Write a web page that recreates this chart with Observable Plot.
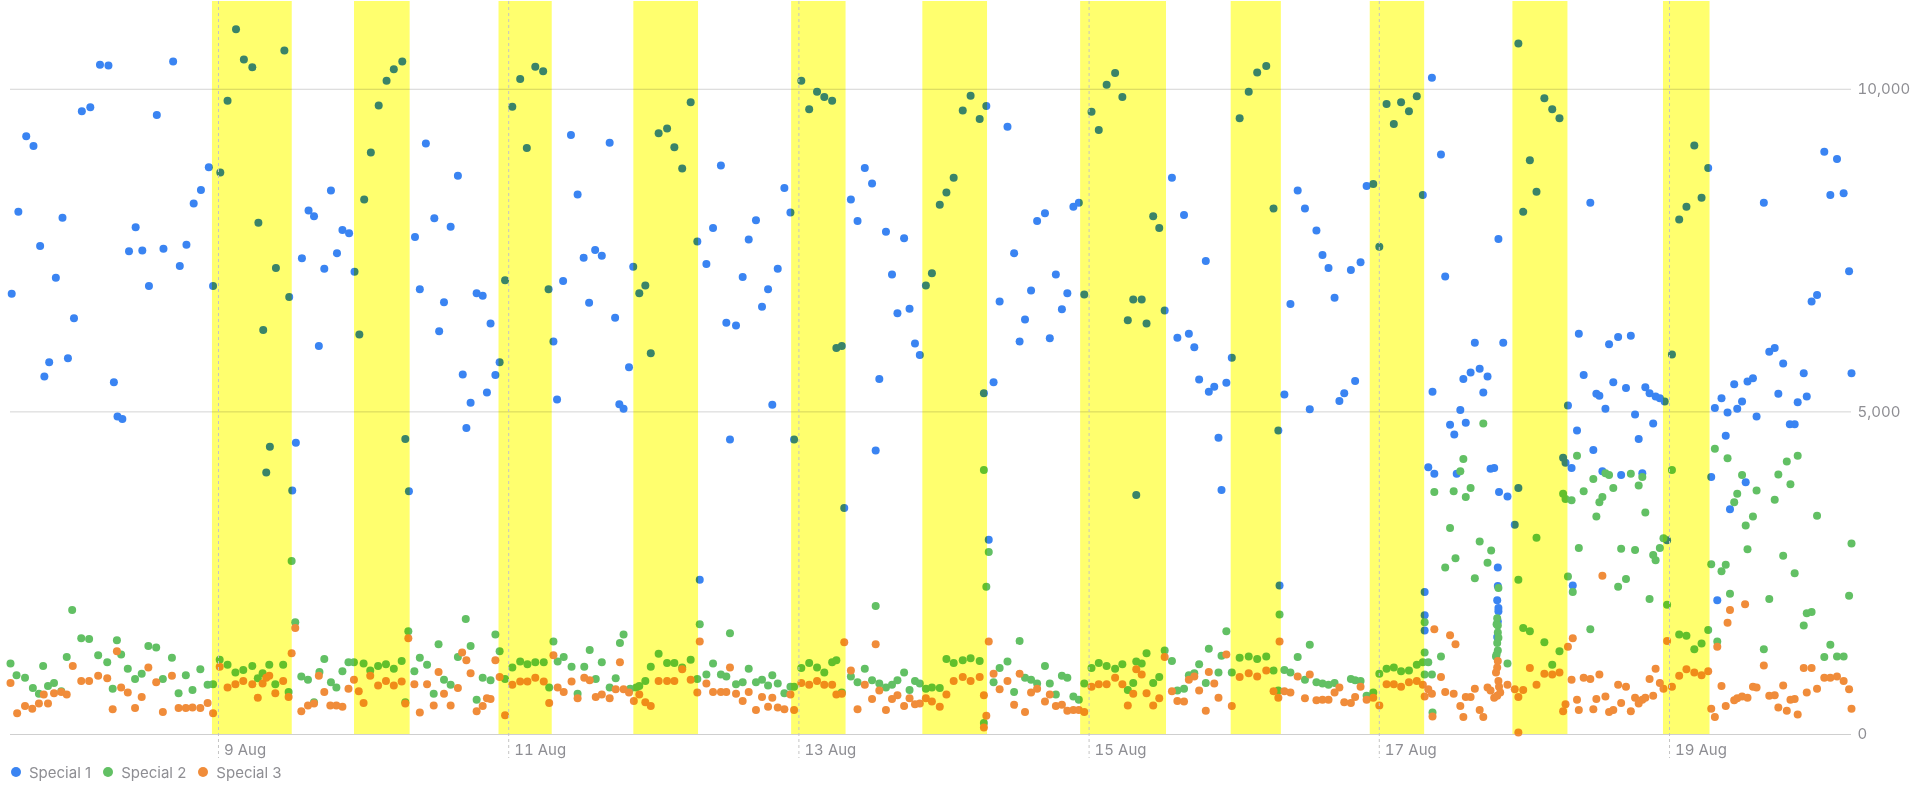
<!DOCTYPE html>
<html>
<head>
<meta charset="utf-8">
<script src="https://cdn.jsdelivr.net/npm/d3@7"></script>
<script src="https://cdn.jsdelivr.net/npm/@observablehq/plot@0.6"></script>
<style>
  html, body { margin: 0; padding: 0; background: #fff; }
  #legend { display: flex; align-items: center; height: 20px; line-height: 20px; padding-left: 11px; font: 15px Inter, "Helvetica Neue", Arial, sans-serif; color: #8e8e93; }
  #legend .item { display: flex; align-items: center; margin-right: 12px; }
  #legend .sw { width: 10px; height: 10px; border-radius: 50%; margin-right: 8px; display: inline-block; }
</style>
</head>
<body>
<div id="chart"></div>
<div id="legend"></div>
<script>
// Times are hours relative to 9 Aug 00:00; values are counts.
const seriesNames = ["Special 1", "Special 2", "Special 3"];
const seriesColors = ["#3a84f2", "#62c064", "#f08c3a"];

const special1 = [[-34.2,6830],[-33.1,8100],[-31.8,9270],[-30.6,9120],[-29.5,7570],[-28.8,5550],[-28.0,5770],[-26.9,7080],[-25.8,8010],[-24.9,5830],[-23.9,6450],[-22.6,9660],[-21.2,9720],[-19.6,10380],[-18.2,10370],[-17.3,5460],[-16.7,4930],[-15.9,4890],[-14.8,7490],[-13.7,7860],[-12.6,7500],[-11.5,6950],[-10.2,9600],[-9.1,7530],[-7.5,10430],[-6.4,7260],[-5.3,7590],[-4.1,8230],[-2.9,8440],[-1.6,8790],[-0.9,6950],
[0.3,8710],[1.5,9820],[2.9,10930],[4.2,10460],[5.6,10340],[6.6,7930],[7.4,6270],[7.9,4060],[8.5,4460],[9.5,7230],[10.9,10600],[11.7,6780],[12.2,3780],[12.8,4520],[13.8,7380],[14.9,8120],[15.8,8030],[16.6,6020],[17.5,7220],[18.6,8430],[19.6,7460],[20.5,7820],[21.6,7770],[22.5,7170],[23.3,6200],[24.1,8290],[25.2,9020],[26.5,9750],[27.8,10130],[29.0,10310],[30.4,10430],[30.9,4580],[31.5,3770],[32.5,7710],[33.3,6900],[34.3,9160],
[35.7,8000],[36.5,6250],[37.3,6700],[38.4,7870],[39.6,8660],[40.4,5580],[41.0,4750],[41.7,5140],[42.7,6840],[43.7,6800],[44.4,5300],[45.0,6370],[45.8,5570],[46.5,5770],[47.4,7040],[48.6,9730],[49.9,10160],[51.0,9090],[52.4,10350],[53.7,10280],[54.6,6900],[55.4,6090],[56.0,5190],[57.0,7030],[58.3,9290],[59.4,8370],[60.4,7390],[61.3,6690],[62.3,7510],[63.4,7420],[64.7,9170],[65.6,6460],[66.3,5120],[67.0,5050],[67.9,5690],[68.6,7250],
[69.6,6840],[70.6,6960],[71.5,5910],[72.8,9320],[74.2,9390],[75.4,9100],[76.7,8770],[78.1,9800],[79.2,7640],[79.6,2400],[80.7,7290],[81.8,7850],[83.1,8820],[84.0,6380],[84.6,4570],[85.6,6340],[86.7,7090],[87.7,7670],[88.9,7970],[89.9,6630],[90.9,6900],[91.6,5110],[92.5,7220],[93.6,8470],[94.6,8090],[95.2,4570],[96.4,10130],[97.7,9690],[99.0,9960],[100.2,9880],[101.5,9820],[102.2,5990],[103.1,6020],[103.5,3510],[104.6,8290],[105.7,7960],[106.9,8780],[108.1,8540],[108.7,4400],[109.3,5510],[110.4,7790],[111.4,7130],[112.3,6530],[113.4,7690],[114.3,6600],[115.2,6060],[116.0,5880],[117.0,6960],[118.0,7150],[119.3,8210],[120.4,8400],[121.6,8630],[123.1,9670],[124.4,9900],[125.9,9540],[126.6,5290],[127.0,9740],[127.4,3020],[128.2,5460],[129.2,6710],[130.5,9420],[131.6,7460],[132.5,6090],[133.4,6430],[134.4,6880],[135.4,7960],
[136.7,8080],[137.5,6140],[138.5,7130],[139.5,6590],[140.4,6840],[141.4,8180],[142.3,8240],[143.2,6820],[144.4,9650],[145.6,9370],[146.9,10070],[148.3,10250],[149.5,9880],[150.4,6420],[151.3,6740],[151.8,3710],[152.7,6740],[153.5,6370],[154.6,8030],[155.6,7850],[156.5,6570],[157.7,8630],[158.6,6150],[159.7,8050],[160.5,6210],[161.4,6000],[162.2,5500],[163.3,7340],[163.8,5310],[164.7,5390],[165.4,4600],[165.9,3790],[166.7,5450],[167.6,5840],[168.9,9550],[170.4,9960],[171.8,10260],[173.3,10360],[174.5,8150],[175.3,4710],[175.5,2310],[176.3,5270],[177.3,6670],[178.5,8430],[179.7,8150],[180.5,5040],[181.6,7810],[182.6,7430],[183.6,7230],[184.6,6770],[185.4,5170],[186.2,5290],[187.3,7200],[188.0,5480],[188.9,7320],[189.9,8500],[191.0,8530],[192.0,7560],[193.2,9770],[194.4,9460],[195.6,9800],[196.9,9660],[198.2,9890],[199.2,8360],[199.5,2210],[199.5,1850],[199.5,1610],[200.1,4140],[200.7,10180],[200.8,5310],[201.1,4040],[202.2,8990],[202.9,7100],
[203.7,4800],[204.4,4650],[204.8,4040],[205.4,5030],[205.9,5510],[206.3,4830],[207.1,5610],[207.8,6070],[208.6,5670],[209.2,5300],[209.9,5550],[210.4,4120],[211.0,4130],[211.5,2080],[211.5,1510],[211.7,7680],[211.6,2590],[211.6,2300],[211.7,1960],[211.7,1910],[211.6,1750],[211.8,3760],[212.5,6070],[213.2,3690],[214.4,3250],[215.0,10710],[215.0,3820],[215.8,8100],[216.9,8900],[218.0,8410],[219.3,9860],[220.6,9690],[221.8,9550],[222.4,4290],[222.8,4210],[223.2,5100],[223.8,4130],[224.0,2310],[224.7,4710],[225.0,6210],[225.8,5570],[226.9,8240],[227.4,4410],[227.9,5280],[228.4,5250],[228.9,4080],[229.4,5050],[230.0,6050],[230.7,5460],[231.5,6160],[232.0,4020],[232.8,5370],[233.6,6180],[234.3,4960],[234.9,4580],[235.5,4050],[236.0,5380],[236.7,5290],[237.3,4820],[237.7,5240],[238.4,5210],[239.2,5160],[239.6,3010],[240.4,5890],[241.6,7980],[242.8,8180],[244.1,9130],[245.3,8320],[246.4,8780],[246.9,3990],[247.5,5060],[247.9,2080],[248.6,5210],[249.3,4630],[249.6,4990],[250.0,3490],[250.7,5430],[251.2,5050],[252.0,5160],[252.6,3910],[252.9,5470],[253.8,5520],[254.4,4930],[255.6,8240],[256.5,5930],[257.4,5990],[258.0,5280],[258.8,5750],[259.9,4810],[260.7,4810],[261.2,5150],[262.2,5600],[262.7,5240],[263.5,6710],[264.4,6810],[265.6,9030],[266.6,8360],[267.7,8920],[268.8,8390],[269.7,7180],[270.1,5600]];

const special2 = [[-34.4,1100],[-33.4,920],[-32.0,880],[-30.7,720],[-29.7,630],[-29.0,1060],[-28.2,750],[-27.2,800],[-26.0,670],[-25.1,1200],[-24.2,1930],[-22.7,1490],[-21.4,1480],[-19.9,1230],[-18.4,1120],[-17.5,710],[-16.8,1460],[-16.1,1240],[-15.0,1020],[-13.8,860],[-12.7,940],[-11.6,1370],[-10.3,1350],[-9.2,860],[-7.7,1190],[-6.6,640],[-5.4,920],[-4.3,690],[-3.0,1010],[-1.8,770],[-0.9,780],
[0.2,1160],[1.5,1080],[2.8,960],[4.1,1000],[5.6,1060],[6.5,870],[7.3,950],[8.4,1080],[9.4,780],[10.7,1080],[11.6,660],[12.1,2690],[12.7,1740],[13.7,900],[14.8,850],[15.8,500],[16.7,970],[17.5,1170],[18.6,810],[19.5,730],[20.5,980],[21.5,1120],[22.4,1120],[24.0,1100],[25.1,990],[26.4,1060],[27.7,1090],[29.0,1020],[30.3,1140],[30.9,500],[31.4,1600],[32.4,980],[33.3,1190],[34.5,1080],[35.6,630],[36.4,1400],[37.3,850],[38.4,770],[39.6,1200],[40.9,1790],[41.7,1370],[42.7,540],[43.7,880],[45.0,840],[45.8,1550],[46.5,1290],[47.4,860],[48.6,1040],[49.9,1130],[51.1,1090],[52.4,1120],[53.8,1120],[54.7,730],[55.4,1440],[56.1,1130],[57.1,1200],[58.4,1050],[59.4,630],[60.5,1050],[61.4,1310],[62.4,860],[63.4,1120],[64.7,730],[65.7,870],[66.4,1420],[67.0,1550],[68.1,710],[69.1,730],[69.6,750],
[70.6,830],[71.5,1050],[72.8,1250],[74.2,1110],[75.4,1110],[76.7,1040],[78.1,1160],[79.2,860],[79.6,1710],[80.7,930],[81.8,1100],[83.1,930],[84.0,900],[84.6,1570],[85.6,780],[86.7,810],[87.7,1020],[88.9,810],[89.9,850],[90.9,760],[91.6,920],[92.5,790],[93.6,640],[94.6,740],[95.2,740],[96.4,1030],[97.7,1110],[99.0,1040],[100.2,960],[101.5,1120],[102.2,1150],[103.1,650],[104.6,900],[105.7,810],[106.9,1020],[108.1,840],[108.7,1990],[109.3,790],[110.4,730],[111.4,770],[112.3,840],[113.4,960],[114.3,690],[115.2,830],[116.0,790],[117.0,710],[118.0,730],[119.3,720],[120.4,1170],[121.6,1110],[123.1,1150],[124.4,1180],[125.9,1140],[126.6,4100],[126.6,180],[127.0,2290],[127.4,2830],[128.2,810],[129.2,1030],[130.5,1130],[131.6,660],[132.5,1450],[133.4,880],[134.4,850],[135.4,790],
[136.7,1060],[137.5,790],[138.5,620],[139.5,910],[140.4,880],[141.4,590],[142.3,540],[143.2,790],[144.4,1030],[145.6,1110],[146.9,1060],[148.3,1020],[149.5,1090],[150.4,690],[151.3,800],[151.8,1130],[152.7,1100],[153.5,1260],[154.6,800],[155.6,890],[156.5,1300],[157.7,1140],[158.6,680],[159.7,710],[160.5,920],[161.4,950],[162.2,1090],[163.3,800],[163.8,1330],[165.4,960],[165.9,1220],[166.7,1600],[167.6,960],[168.9,1190],[170.4,1210],[171.8,1170],[173.3,1210],[174.5,990],[175.3,680],[175.5,1860],[176.3,1000],[177.3,960],[178.5,1200],[179.7,850],[180.5,1390],[181.6,810],[182.6,790],[183.6,770],[184.6,800],[187.3,860],[188.0,840],[188.9,830],[189.9,600],[191.0,650],[192.0,940],[193.2,1020],[194.4,1040],[195.6,980],[196.9,990],[198.2,1080],[199.2,1120],[199.5,1270],[199.5,1740],[199.5,930],[200.1,1120],[200.7,930],[200.8,340],[201.1,3760],[202.2,1210],[202.9,2590],
[203.7,3200],[204.3,3770],[204.6,2730],[205.4,4080],[205.9,4270],[206.3,3680],[207.1,3820],[207.8,2420],[208.6,2990],[209.2,4820],[209.9,2660],[210.5,2850],[211.7,2270],[211.4,1710],[211.5,1800],[211.6,1690],[211.6,1580],[211.7,1500],[211.5,1420],[211.6,1300],[211.4,1240],[211.3,1210],[213.2,1100],[215.0,2400],[215.8,1650],[216.9,1600],[218.0,3050],[219.3,1430],[220.6,1080],[221.8,1290],[222.4,3730],[222.8,3650],[223.2,2450],[223.8,3630],[224.0,2210],[224.7,4320],[225.0,2890],[225.8,3770],[226.9,1630],[227.4,3960],[227.9,3380],[228.4,3600],[228.9,3680],[229.4,4050],[230.0,4020],[230.7,3820],[231.5,2290],[232.0,2880],[232.8,2410],[233.6,4040],[234.3,2860],[234.9,3860],[235.5,3990],[236.0,3440],[236.7,2100],[237.3,2780],[237.7,2700],[238.4,2890],[239.0,3040],[239.6,2010],[240.4,4100],[241.6,1550],[242.8,1530],[244.1,1320],[245.3,1410],[246.4,1620],[246.9,2640],[247.5,4430],[247.9,1440],[248.6,2530],[249.3,2630],[249.6,4280],[250.0,2180],[250.7,3600],[251.2,3730],[252.0,4020],[252.6,3240],[252.9,2870],[253.8,3380],[254.4,3780],[255.6,1320],[256.5,2100],[257.4,3640],[258.0,4030],[258.8,2770],[259.4,4230],[260.0,3880],[260.7,2500],[261.2,4320],[262.2,1690],[262.7,1880],[263.5,1900],[264.4,3390],[265.6,1200],[266.6,1390],[267.7,1210],[268.8,1210],[269.7,2150],[270.1,2960]];

const special3 = [[-34.4,800],[-33.3,330],[-32.0,440],[-30.8,400],[-29.7,480],[-28.9,620],[-28.2,480],[-27.2,640],[-26.0,660],[-25.1,620],[-24.1,1060],[-22.7,830],[-21.4,830],[-19.9,910],[-18.4,870],[-17.5,390],[-16.8,1290],[-16.1,730],[-15.0,650],[-13.8,410],[-12.7,580],[-11.6,1040],[-10.3,810],[-9.2,350],[-7.7,910],[-6.6,410],[-5.4,410],[-4.3,420],[-3.0,410],[-1.8,490],[-0.9,330],
[0.2,1050],[1.5,730],[2.8,780],[4.1,830],[5.6,780],[6.5,570],[7.3,790],[7.9,880],[8.4,910],[9.4,640],[10.7,830],[11.6,580],[12.1,1260],[12.7,1650],[13.7,360],[14.8,450],[15.8,480],[16.6,910],[17.5,660],[18.5,450],[19.5,450],[20.5,430],[21.5,710],[22.4,850],[23.2,670],[24.0,490],[25.1,910],[26.4,760],[27.7,830],[29.0,760],[30.3,820],[30.9,480],[31.4,1490],[32.4,780],[33.3,340],[34.5,780],[35.6,450],[36.4,970],[37.3,630],[38.4,450],[39.6,720],[40.3,1270],[41.0,1150],[41.7,950],[42.7,360],[43.7,440],[44.4,560],[45.0,550],[45.8,1150],[46.5,890],[47.4,300],[48.6,770],[49.9,820],[51.1,820],[52.4,880],[53.8,820],[54.7,490],[55.4,1230],[56.1,730],[57.1,660],[58.4,820],[59.4,560],[60.5,880],[61.4,840],[62.4,580],[63.4,620],[64.7,560],[65.7,700],[66.4,1120],[67.0,700],[67.9,650],[68.7,520],[69.6,620],
[70.6,500],[71.5,440],[72.8,830],[74.2,830],[75.4,830],[76.7,1010],[78.1,850],[79.2,650],[79.6,1440],[80.7,790],[81.8,660],[83.1,660],[84.0,660],[84.6,1040],[85.6,630],[86.7,520],[87.7,660],[88.9,380],[89.9,580],[90.9,430],[91.6,570],[92.5,420],[93.6,390],[94.6,620],[95.2,380],[96.4,800],[97.7,770],[99.0,830],[100.2,770],[101.5,770],[102.2,620],[103.1,630],[103.5,1430],[104.6,990],[105.7,390],[106.9,770],[108.1,550],[108.7,1400],[109.3,680],[110.4,380],[111.4,550],[112.3,610],[113.4,440],[114.3,560],[115.2,470],[116.0,480],[117.0,560],[118.0,510],[119.3,430],[120.4,620],[121.6,830],[123.1,890],[124.4,830],[125.9,890],[126.6,610],[127.0,290],[126.6,110],[127.4,1440],[128.2,940],[129.2,700],[130.5,830],[131.6,460],[132.5,940],[133.4,350],[134.4,650],[135.4,710],
[136.7,510],[137.5,620],[138.5,440],[139.5,460],[140.4,370],[141.4,380],[142.3,380],[143.2,350],[144.4,740],[145.6,780],[146.9,780],[148.3,880],[149.5,780],[150.4,450],[151.3,630],[151.8,1010],[152.7,930],[153.5,640],[154.6,450],[155.6,560],[156.5,1200],[157.7,670],[158.6,520],[159.7,510],[160.5,850],[161.4,900],[162.2,680],[163.3,370],[163.8,970],[164.7,790],[165.4,570],[166.7,1240],[167.6,440],[168.9,890],[170.4,950],[171.8,900],[173.3,990],[174.5,670],[175.3,570],[175.5,1440],[176.3,670],[177.3,650],[178.5,900],[179.7,560],[180.5,930],[181.6,530],[182.6,540],[183.6,540],[184.6,650],[185.4,730],[186.2,500],[187.3,490],[188.0,580],[188.9,740],[189.9,540],[191.0,570],[192.0,450],[193.2,780],[194.4,780],[195.6,740],[196.9,810],[198.2,830],[199.2,770],[199.5,590],[200.1,700],[200.7,630],[200.8,280],[201.1,1630],[202.2,890],[202.9,660],
[203.7,1540],[204.3,630],[204.6,1400],[205.4,440],[205.9,270],[206.3,580],[207.1,580],[207.8,710],[208.6,380],[209.2,270],[209.9,730],[210.4,680],[211.0,570],[211.3,960],[211.5,1040],[211.6,1140],[211.7,830],[211.8,740],[211.5,600],[212.0,650],[213.2,770],[214.4,700],[215.0,580],[215.0,30],[215.8,690],[216.9,1030],[218.0,770],[219.3,940],[220.6,930],[221.8,960],[222.4,360],[222.8,470],[223.2,1360],[223.8,850],[224.0,1490],[224.7,540],[225.0,380],[225.8,880],[226.9,860],[227.4,390],[227.9,550],[228.4,930],[228.9,2460],[229.4,590],[230.0,350],[230.7,380],[231.5,770],[232.0,490],[232.8,740],[233.6,360],[234.3,570],[234.9,480],[235.5,540],[236.0,570],[236.7,860],[237.3,600],[237.7,1020],[238.4,800],[239.0,710],[239.6,1450],[240.4,740],[241.6,910],[242.8,1010],[244.1,960],[245.3,920],[246.4,980],[246.9,400],[247.5,270],[247.9,1360],[248.6,750],[249.3,440],[249.6,1730],[250.0,1930],[250.7,530],[251.2,560],[252.0,590],[252.5,2020],[252.9,570],[253.8,740],[254.4,730],[255.6,1070],[256.5,600],[257.4,610],[258.0,420],[258.8,760],[259.4,370],[260.0,540],[260.7,550],[261.2,310],[262.2,1030],[262.7,650],[263.5,1030],[264.4,710],[265.6,880],[266.6,880],[267.7,900],[268.8,830],[269.7,700],[270.1,400]];

// highlighted periods (hours from 9 Aug 00:00)
const bandStarts = [-1.0, 22.5, 46.4, 68.7, 94.8, 116.5, 142.6, 167.5, 190.5, 214.1, 239.0];
const bandEnds   = [12.2, 31.7, 55.2, 79.4, 103.8, 127.2, 156.8, 175.8, 199.5, 223.2, 246.7];

// x tick days (August)
const tickDays = [9, 11, 13, 15, 17, 19];
const yTicks = [0, 5000, 10000];
const yMax = 11360;

const base = Date.UTC(2023, 7, 9);
const toDate = h => new Date(base + h * 3600e3);

const toRows = s => s.map(([h, v]) => ({t: toDate(h), v}));
const rows1 = toRows(special1), rows2 = toRows(special2), rows3 = toRows(special3);
const bands = bandStarts.map((s, i) => ({start: toDate(s), end: toDate(bandEnds[i])}));
const ticks = tickDays.map(d => new Date(Date.UTC(2023, 7, d)));
const xDomain = d3.extent([...rows1, ...rows2, ...rows3], d => d.t);

const chart = Plot.plot({
  width: 1916,
  height: 762,
  marginTop: 1,
  marginBottom: 28,
  marginLeft: 10,
  marginRight: 65,
  style: {fontFamily: "Inter, 'Helvetica Neue', Arial, sans-serif", fontSize: "15px", color: "#8e8e93", background: "white"},
  x: {type: "utc", domain: xDomain, label: null},
  y: {domain: [0, yMax], label: null},
  marks: [
    Plot.gridY([5000, 10000], {stroke: "#d4d4d4", strokeOpacity: 1}),
    Plot.ruleY([0], {stroke: "#cfcfcf"}),
    Plot.dot(rows1, {x: "t", y: "v", r: 4, fill: seriesColors[0]}),
    Plot.dot(rows2, {x: "t", y: "v", r: 4, fill: seriesColors[1]}),
    Plot.dot(rows3, {x: "t", y: "v", r: 4, fill: seriesColors[2]}),
    Plot.rect(bands, {x1: "start", x2: "end", fill: "#ffff6e", mixBlendMode: "multiply"}),
    Plot.ruleX(ticks, {stroke: "#c4c4c4", strokeDasharray: "3,3", insetBottom: -24}),
    Plot.axisX(ticks, {tickSize: 0, tickPadding: 10, textAnchor: "start", dx: 5.5, tickFormat: d3.utcFormat("%-d %b"), fontSize: 15, fill: "#8e8e93", label: null}),
    Plot.axisY(yTicks, {anchor: "right", tickSize: 0, tickPadding: 6, tickFormat: d3.format(","), fontSize: 15, fill: "#8e8e93", label: null})
  ]
});
document.getElementById("chart").append(chart);

const legend = document.getElementById("legend");
seriesNames.forEach((name, i) => {
  const item = document.createElement("span");
  item.className = "item";
  const sw = document.createElement("span");
  sw.className = "sw";
  sw.style.background = seriesColors[i];
  item.append(sw, document.createTextNode(name));
  legend.append(item);
});
</script>
</body>
</html>
